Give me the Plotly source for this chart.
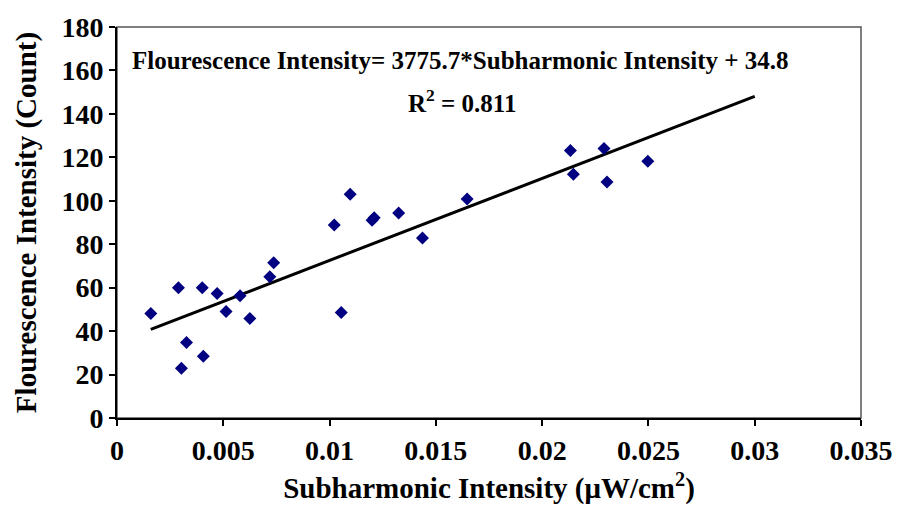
import plotly.graph_objects as go

# Data
subharmonic = [0.00159, 0.00289, 0.00327, 0.00303, 0.00401, 0.00406, 0.00471, 0.00513,
               0.00579, 0.00625, 0.00719, 0.00737, 0.01022, 0.01097, 0.01055, 0.01200,
               0.01210, 0.01325, 0.01437, 0.01647, 0.02133, 0.02147, 0.02291, 0.02305, 0.02497]
fluorescence = [48.1, 60.0, 34.8, 22.9, 60.0, 28.4, 57.3, 49.0,
                56.3, 45.8, 65.0, 71.5, 88.9, 103.0, 48.6, 91.0,
                92.2, 94.4, 82.9, 100.8, 123.2, 112.2, 124.1, 108.6, 118.2]

slope = 3775.7
intercept = 34.8
r_squared = 0.811
trend_x = [min(subharmonic), 0.03]
trend_y = [slope * x + intercept for x in trend_x]

x_ticks = [0, 0.005, 0.01, 0.015, 0.02, 0.025, 0.03, 0.035]
x_tick_labels = ["0", "0.005", "0.01", "0.015", "0.02", "0.025", "0.03", "0.035"]
y_ticks = [0, 20, 40, 60, 80, 100, 120, 140, 160, 180]

FONT = "Liberation Serif"

fig = go.Figure()
fig.add_trace(go.Scatter(
    x=trend_x, y=trend_y, mode="lines",
    line=dict(color="black", width=3), hoverinfo="skip", showlegend=False))
fig.add_trace(go.Scatter(
    x=subharmonic, y=fluorescence, mode="markers",
    marker=dict(symbol="diamond", size=10, color="#000080"),
    showlegend=False))

fig.add_annotation(
    x=0.462, y=0.914, xref="paper", yref="paper", showarrow=False,
    text="<b>Flourescence Intensity= 3775.7*Subharmonic Intensity + 34.8</b>",
    font=dict(family=FONT, size=25, color="black"), xanchor="center", yanchor="middle")
fig.add_annotation(
    x=0.464, y=0.812, xref="paper", yref="paper", showarrow=False,
    text="<b>R<sup>2</sup> = %.3f</b>" % r_squared,
    font=dict(family=FONT, size=25, color="black"), xanchor="center", yanchor="middle")

fig.add_shape(type="rect", xref="paper", yref="paper", x0=0, x1=1, y0=0, y1=1,
              line=dict(color="#555555", width=1.5), layer="below")

fig.update_layout(
    width=905, height=511,
    margin=dict(l=117, r=37, t=24, b=93),
    paper_bgcolor="white", plot_bgcolor="white",
    font=dict(family=FONT, color="black"),
    xaxis=dict(
        range=[0, 0.035], tickvals=x_ticks, ticktext=x_tick_labels,
        showgrid=False, zeroline=False, showline=True, linecolor="black", linewidth=2,
        ticks="outside", ticklen=6, tickwidth=2, tickcolor="black",
        tickfont=dict(family=FONT, size=28, color="black", weight="bold"),
        title=dict(text="<b>Subharmonic Intensity (μW/cm<sup>2</sup>)</b>",
                   font=dict(family=FONT, size=29, color="black"), standoff=13)),
    yaxis=dict(
        range=[0, 180], tickvals=y_ticks,
        showgrid=False, zeroline=False, showline=True, linecolor="black", linewidth=2,
        ticks="outside", ticklen=6, tickwidth=2, tickcolor="black",
        tickfont=dict(family=FONT, size=28, color="black", weight="bold"),
        title=dict(text="<b>Flourescence Intensity (Count)</b>",
                   font=dict(family=FONT, size=29, color="black"), standoff=16)),
)

fig.write_html("out.html")
